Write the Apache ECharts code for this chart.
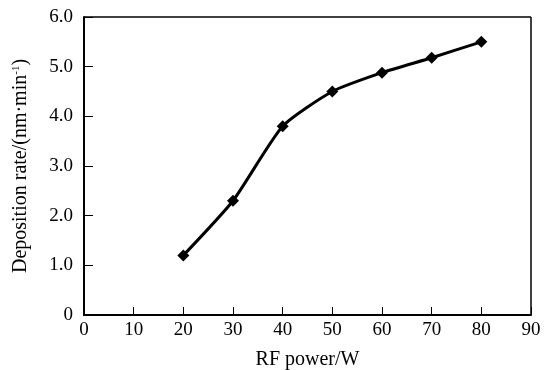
<!DOCTYPE html>
<html>
<head>
<meta charset="utf-8">
<script src="https://cdn.jsdelivr.net/npm/echarts@6/dist/echarts.min.js"></script>
<style>
  html, body { margin: 0; padding: 0; background: #fff; }
  #chart { width: 544px; height: 370px; }
</style>
</head>
<body>
<div id="chart"></div>
<script>
// RF power (W) and deposition rate (nm/min)
const rfPower = [20, 30, 40, 50, 60, 70, 80];
const depRate = [1.2, 2.3, 3.8, 4.5, 4.88, 5.18, 5.5];

const font = 'Liberation Serif, Times New Roman, serif';

let myChart = echarts.init(document.getElementById('chart'));
let option;

option = {
    animation: false,
    grid: {
        left: 84,
        right: 13,
        top: 17,
        bottom: 55,
        outerBoundsMode: 'none',
        containLabel: false
    },
    xAxis: {
        type: 'value',
        min: 0,
        max: 90,
        interval: 10,
        name: 'RF power/W',
        nameLocation: 'middle',
        nameGap: 35,
        nameTextStyle: { fontFamily: font, fontSize: 20, color: '#000' },
        axisLine: { show: true, onZero: false, lineStyle: { color: '#000', width: 2 } },
        axisTick: { show: true, inside: true, length: 8, lineStyle: { color: '#000', width: 1 } },
        axisLabel: { fontFamily: font, fontSize: 19, color: '#000', margin: 6 },
        splitLine: { show: false }
    },
    yAxis: {
        type: 'value',
        min: 0,
        max: 6,
        interval: 1,
        name: '{a|Deposition rate/(nm·min}{s|-1}{a|)}',
        nameLocation: 'middle',
        nameGap: 53,
        nameTextStyle: {
            rich: {
                a: { fontFamily: font, fontSize: 20, color: '#000' },
                s: { fontFamily: font, fontSize: 11, color: '#000', verticalAlign: 'top', padding: [0, 0, 9, 0] }
            }
        },
        axisLine: { show: true, onZero: false, lineStyle: { color: '#000', width: 2 } },
        axisTick: { show: true, inside: true, length: 9, lineStyle: { color: '#000', width: 1 } },
        axisLabel: {
            fontFamily: font, fontSize: 19, color: '#000', margin: 11,
            formatter: function (v) { return v === 0 ? '0' : v.toFixed(1); }
        },
        splitLine: { show: false }
    },
    graphic: [
        // top and right frame
        { type: 'line', shape: { x1: 84, y1: 17, x2: 531, y2: 17 }, style: { stroke: '#000', lineWidth: 1.5 } },
        { type: 'line', shape: { x1: 531, y1: 17, x2: 531, y2: 315 }, style: { stroke: '#000', lineWidth: 1.5 } }
    ],
    series: [
        {
            type: 'line',
            smooth: 0.2,
            data: rfPower.map((x, i) => [x, depRate[i]]),
            symbol: 'diamond',
            symbolSize: 12,
            itemStyle: { color: '#000' },
            lineStyle: { color: '#000', width: 3 }
        }
    ]
};

option && myChart.setOption(option);
</script>
</body>
</html>
